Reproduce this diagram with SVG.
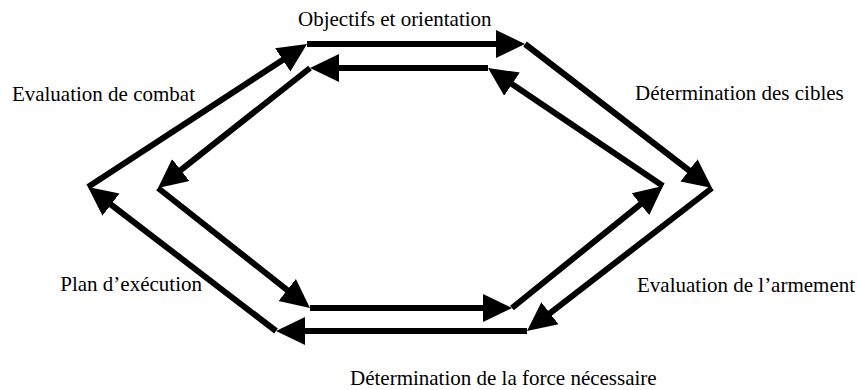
<svg xmlns="http://www.w3.org/2000/svg" width="858" height="390" viewBox="0 0 858 390">
  <defs>
    <marker id="ah" markerUnits="userSpaceOnUse" markerWidth="30" markerHeight="30" viewBox="0 -15 30 30" refX="15" refY="0" orient="auto">
      <path d="M0,-14 L29,0 L0,14 Z" fill="#000"/>
    </marker>
    <style>
      .lbl { font-family: "Liberation Serif", "Times New Roman", serif; font-size: 21px; fill: #000; }
      .edge { stroke: #000; stroke-width: 6; fill: none; marker-end: url(#ah); }
    </style>
  </defs>
  <rect width="858" height="390" fill="#fff"/>
  <g id="connectors">
    <!-- outer ring, clockwise -->
    <line class="edge" x1="307" y1="44" x2="511" y2="44"/>
    <line class="edge" x1="525" y1="44" x2="700.9" y2="179.5"/>
    <line class="edge" x1="712" y1="188" x2="538.1" y2="322.4"/>
    <line class="edge" x1="527" y1="331" x2="290" y2="331"/>
    <line class="edge" x1="276" y1="331" x2="99.1" y2="195.5"/>
    <line class="edge" x1="88" y1="187" x2="295.3" y2="51.7"/>
    <!-- inner ring, counter-clockwise -->
    <line class="edge" x1="488" y1="68" x2="324" y2="68"/>
    <line class="edge" x1="310" y1="68" x2="169" y2="179.3"/>
    <line class="edge" x1="158" y1="188" x2="299" y2="299.3"/>
    <line class="edge" x1="310" y1="308" x2="498" y2="308"/>
    <line class="edge" x1="512" y1="308" x2="652.1" y2="194.8"/>
    <line class="edge" x1="663" y1="186" x2="499.6" y2="75.8"/>
  </g>
  <g id="objectifs"><text class="lbl" x="298" y="26">Objectifs et orientation</text></g>
  <g id="cibles"><text class="lbl" x="635" y="100">Détermination des cibles</text></g>
  <g id="armement"><text class="lbl" x="637" y="292">Evaluation de l’armement</text></g>
  <g id="force"><text class="lbl" x="350" y="385">Détermination de la force nécessaire</text></g>
  <g id="plan"><text class="lbl" x="202" y="291" text-anchor="end">Plan d’exécution</text></g>
  <g id="combat"><text class="lbl" x="195" y="101" text-anchor="end">Evaluation de combat</text></g>
</svg>
